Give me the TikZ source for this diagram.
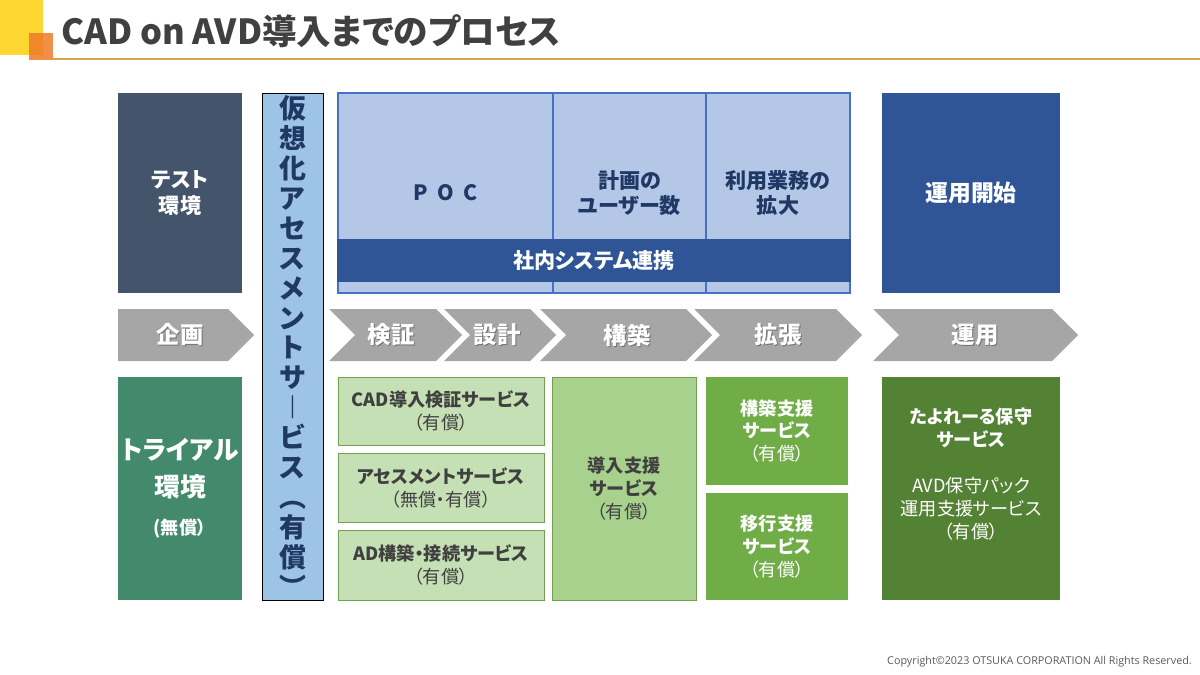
\documentclass[tikz,border=0pt]{standalone}
\usepackage{fontspec}
\setmainfont{Noto Sans CJK JP}[RawFeature=+palt]
\newfontfamily\copyfont{Open Sans}
\usetikzlibrary{positioning}
\definecolor{logoyellow}{RGB}{253,214,48}
\definecolor{logoorange}{RGB}{238,122,40}
\definecolor{titlegray}{RGB}{64,64,64}
\definecolor{titleline}{RGB}{214,166,72}
\definecolor{testbg}{RGB}{68,84,106}
\definecolor{colbg}{RGB}{157,195,230}
\definecolor{navytext}{RGB}{31,56,100}
\definecolor{pocbg}{RGB}{180,199,231}
\definecolor{pocline}{RGB}{68,114,196}
\definecolor{bandbg}{RGB}{47,85,151}
\definecolor{arrowgray}{RGB}{166,166,166}
\definecolor{trialbg}{RGB}{67,138,109}
\definecolor{lightgreen}{RGB}{197,224,180}
\definecolor{midgreen}{RGB}{169,209,142}
\definecolor{greenline}{RGB}{112,160,80}
\definecolor{svcgreen}{RGB}{112,173,71}
\definecolor{darkgreen}{RGB}{84,130,53}
\definecolor{boxtext}{RGB}{64,64,64}
\definecolor{copygray}{RGB}{89,89,89}
\newcommand\pix{0.03cm}

\begin{document}
\begin{tikzpicture}[x=0.03cm, y=-0.03cm,
    every node/.style={inner sep=0pt, align=center},
    blk/.style 2 args={minimum width=#1*\pix, minimum height=#2*\pix},
    bigtxt/.style={font=\bfseries\fontsize{18}{22}\selectfont},
    svctxt/.style={font=\fontsize{15.5}{19.6}\selectfont},
    lightsvc/.style={draw=greenline, line width=0.8pt, fill=lightgreen, text=boxtext, svctxt},
    steplbl/.style={font=\bfseries\fontsize{20}{22}\selectfont}]
    \useasboundingbox (0,0) rectangle (1200,675);

    % title
    \fill[logoyellow] (0,0) rectangle (43,55);
    \fill[logoorange, opacity=0.85] (29,33) rectangle (53,60);
    \draw[titleline, line width=1.2pt] (53,59) -- (1200,59);
    \node[anchor=west, text=titlegray, font=\bfseries\fontsize{29.5}{31}\selectfont] (title) at (61,31) {CAD on AVD導入までのプロセス};

    % top row
    \node[blk={124}{200}, fill=testbg, text=white, bigtxt] (test) at (180,193) {テスト\\環境};
    \node[blk={215}{200}, draw=pocline, line width=1.6pt, fill=pocbg, text=navytext, bigtxt] (poc) at (445.5,193) {P\hspace{0.45em}O\hspace{0.45em}C};
    \node[blk={153}{200}, draw=pocline, line width=1.6pt, fill=pocbg, text=navytext, bigtxt] (plan) at (629.5,193) {計画の\\ユーザー数};
    \node[blk={144}{200}, draw=pocline, line width=1.6pt, fill=pocbg, text=navytext, bigtxt] (expand) at (778,193) {利用業務の\\拡大};
    \node[blk={514}{43}, fill=bandbg, text=white, bigtxt] (renkei) at (594,260.5) {社内システム連携};
    \node[blk={178}{200}, fill=bandbg, text=white, font=\bfseries\fontsize{19.5}{22}\selectfont] (start) at (971,193) {運用開始};

    % process arrows
    \fill[arrowgray] (118,309) -- (228,309) -- (254,335) -- (228,361) -- (118,361) -- cycle;
    \node[steplbl, text=black!55] (kikaku-sh) at (181,336) {企画};
    \node[steplbl, text=white] (kikaku) at (180,335) {企画};
    \foreach \l/\r/\nm/\txt/\cx in {329/436/kensho/検証/391, 444/530/sekkei/設計/497,
        540/686/kochiku/構築/627, 694/836/kakucho/拡張/778, 873/1052/unyo/運用/975} {
        \fill[arrowgray] (\l,309) -- (\r,309) -- ({\r+26},335) -- (\r,361) -- (\l,361) -- ({\l+26},335) -- cycle;
        \node[steplbl, text=black!55] (\nm-sh) at ({\cx+1},336) {\txt};
        \node[steplbl, text=white] (\nm) at (\cx,335) {\txt};
    }

    % assessment column
    \node[blk={61}{507}, draw=black, line width=0.8pt, fill=colbg, text=navytext,
        font={\bfseries\fontsize{23}{25.6}\selectfont\lineskiplimit=-20pt\relax}] (assess) at (292.5,346.5)
        {仮\\想\\化\\ア\\セ\\ス\\メ\\ン\\ト\\サ\\︱\\ビ\\ス\\︵\\有\\償\\︶};

    % bottom row
    \node[blk={124}{223}, fill=trialbg, text=white, font=\bfseries\fontsize{22}{31}\selectfont] (trial) at (180,488.5)
        {トライアル\\環境\\[2pt]\fontsize{15.5}{20}\selectfont (無償）};
    \node[blk={206}{68}, lightsvc] (cadsvc) at (441,411) {{\bfseries CAD導入検証サービス}\\（有償）};
    \node[blk={206}{69}, lightsvc] (assesssvc) at (441,487.5) {{\bfseries アセスメントサービス}\\（無償・有償）};
    \node[blk={206}{70}, lightsvc] (adsvc) at (441,565) {{\bfseries AD構築・接続サービス}\\（有償）};
    \node[blk={144}{223}, draw=greenline, line width=0.8pt, fill=midgreen, text=boxtext, svctxt] (donyu) at (624,488.5)
        {\bfseries 導入支援\\\bfseries サービス\\（有償）};
    \node[blk={142}{108}, fill=svcgreen, text=white, svctxt] (kochikusvc) at (777,431)
        {\bfseries 構築支援\\\bfseries サービス\\（有償）};
    \node[blk={142}{107}, fill=svcgreen, text=white, svctxt] (ikosvc) at (777,546.5)
        {\bfseries 移行支援\\\bfseries サービス\\（有償）};
    \node[blk={178}{223}, fill=darkgreen] (hoshu) at (971,488.5) {};
    \node[text=white, svctxt] (hoshutxt) at (971,474)
        {\bfseries たよれーる保守\\\bfseries サービス\\[19.6pt]AVD保守パック\\運用支援サービス\\（有償）};

    \node[anchor=east, text=copygray, font=\copyfont\fontsize{9.2}{11}\selectfont] (copyright) at (1192,662)
        {Copyright©2023 OTSUKA CORPORATION All Rights Reserved.};
\end{tikzpicture}
\end{document}
